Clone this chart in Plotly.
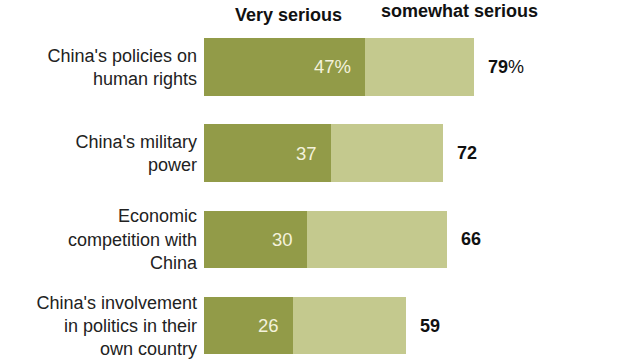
import plotly.graph_objects as go

categories = [
    "China's policies on<br>human rights",
    "China's military<br>power",
    "Economic<br>competition with<br>China",
    "China's involvement<br>in politics in their<br>own country",
]
very_serious = [47, 37, 30, 26]
somewhat_serious = [32, 33, 41, 33]
net_totals = [79, 72, 66, 59]
very_labels = ["47%", "37", "30", "26"]
total_labels = ["<b>79</b>%", "<b>72</b>", "<b>66</b>", "<b>59</b>"]
headers = ["Very serious", "somewhat serious"]

DARK = "#929b48"
LIGHT = "#c4c98e"
FONT = "Liberation Sans, Arial, sans-serif"

fig = go.Figure()
fig.add_trace(go.Bar(
    y=categories, x=very_serious, orientation="h",
    marker=dict(color=DARK, line=dict(width=0)), name=headers[0],
    hoverinfo="skip",
))
fig.add_trace(go.Bar(
    y=categories, x=somewhat_serious, orientation="h",
    marker=dict(color=LIGHT, line=dict(width=0)), name=headers[1],
    hoverinfo="skip",
))

annotations = []
for cat, v, lab in zip(categories, very_serious, very_labels):
    annotations.append(dict(
        x=v, y=cat, xref="x", yref="y", text=lab, showarrow=False,
        xanchor="right", xshift=-12,
        font=dict(family=FONT, size=18.5, color="#f4f2dc"),
    ))
for cat, v, s, lab in zip(categories, very_serious, somewhat_serious, total_labels):
    annotations.append(dict(
        x=v + s, y=cat, xref="x", yref="y", text=lab, showarrow=False,
        xanchor="left", xshift=12,
        font=dict(family=FONT, size=18, color="#111111"),
    ))
annotations.append(dict(
    x=24.6, y=-0.603, xref="x", yref="y", text="<b>" + headers[0] + "</b>",
    showarrow=False, xanchor="center", yanchor="middle",
    font=dict(family=FONT, size=18, color="#111111"),
))
annotations.append(dict(
    x=74.6, y=-0.648, xref="x", yref="y", text="<b>" + headers[1] + "</b>",
    showarrow=False, xanchor="center", yanchor="middle",
    font=dict(family=FONT, size=18, color="#111111"),
))

fig.update_layout(
    width=640, height=360,
    margin=dict(l=204, r=94, t=0, b=0),
    barmode="stack",
    bargap=0.33,
    showlegend=False,
    paper_bgcolor="white",
    plot_bgcolor="white",
    annotations=annotations,
    xaxis=dict(range=[0, 100], visible=False, fixedrange=True, automargin=False),
    yaxis=dict(
        type="category",
        categoryorder="array", categoryarray=categories,
        range=[3.399, -0.777],
        automargin=False, fixedrange=True,
        showgrid=False, zeroline=False, showline=False, ticks="",
        ticklabelstandoff=6,
        tickfont=dict(family=FONT, size=18, color="#222222"),
    ),
)

fig.write_html(
    "out.html",
    config={"displayModeBar": False},
    post_script="document.body.style.margin='0px';",
)
